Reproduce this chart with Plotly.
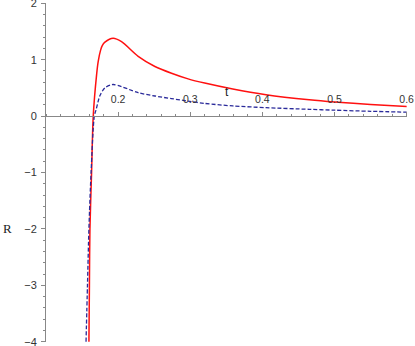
import plotly.graph_objects as go

# red curve (solid)
t_red = [0.1595, 0.1602, 0.1609, 0.1632, 0.1655, 0.1702, 0.1724, 0.1757, 0.178, 0.1817,
         0.193, 0.2047, 0.2278, 0.251, 0.274, 0.297, 0.32, 0.359, 0.405, 0.465, 0.50, 0.55, 0.60]
r_red = [-4.0, -3.0, -2.0, -1.0, 0.0, 0.74, 0.97, 1.17, 1.25, 1.31,
         1.38, 1.32, 1.06, 0.88, 0.76, 0.66, 0.585, 0.48, 0.38, 0.29, 0.25, 0.205, 0.17]

# blue curve (dashed)
t_blue = [0.1555, 0.1575, 0.1595, 0.1625, 0.167, 0.1696, 0.1747, 0.1817, 0.193,
          0.2278, 0.251, 0.274, 0.297, 0.32, 0.359, 0.405, 0.465, 0.50, 0.55, 0.60]
r_blue = [-4.0, -3.0, -2.0, -1.0, 0.0, 0.12, 0.36, 0.50, 0.56,
          0.415, 0.356, 0.31, 0.265, 0.225, 0.18, 0.15, 0.12, 0.105, 0.085, 0.07]

x_ticks = [0.2, 0.3, 0.4, 0.5, 0.6]
y_ticks = [-4, -3, -2, -1, 0, 1, 2]

fig = go.Figure()
fig.add_trace(go.Scatter(x=t_red, y=r_red, mode="lines",
                         line=dict(color="#ff1010", width=1.5, shape="spline", smoothing=0.8)))
fig.add_trace(go.Scatter(x=t_blue, y=r_blue, mode="lines",
                         line=dict(color="#2a2a9a", width=1.3, dash="4px,2px", shape="spline", smoothing=0.8)))

fig.add_annotation(x=0.351, y=0.42, text="t", showarrow=False,
                   font=dict(family="Liberation Sans", size=12, color="#222"))
fig.add_annotation(x=0, xref="paper", xanchor="left", xshift=-45, y=-2, text="R", showarrow=False,
                   font=dict(family="Liberation Serif", size=13, color="#222"))

fig.update_layout(
    width=415, height=346,
    margin=dict(l=46, r=8, t=3, b=4),
    paper_bgcolor="white", plot_bgcolor="white",
    showlegend=False,
    font=dict(family="Liberation Sans", size=11, color="#333"),
    xaxis=dict(range=[0.1, 0.6005], tickvals=x_ticks, ticktext=[str(v) for v in x_ticks],
               automargin=False, tickfont=dict(size=10.5), ticklabeloverflow="allow",
               showgrid=False, zeroline=False, showline=True, linecolor="#888", linewidth=1,
               side="top", anchor="free", position=4 / 6, ticklabelstandoff=5,
               ticks="outside", ticklen=4, tickcolor="#888",
               minor=dict(dtick=0.02, ticks="outside", ticklen=2, tickcolor="#888")),
    yaxis=dict(range=[-4.005, 2.005], tickvals=y_ticks, ticktext=["\u22124", "\u22123", "\u22122", "\u22121", "0", "1", "2"],
               automargin=False, ticklabelstandoff=2, ticklabeloverflow="allow",
               showgrid=False, zeroline=False, showline=True, linecolor="#888", linewidth=1,
               ticks="outside", ticklen=4, tickcolor="#888",
               minor=dict(dtick=0.2, ticks="outside", ticklen=2, tickcolor="#888")),
)

# page body has a default margin; drop it so the figure sits at the window corner
fig.write_html("out.html", config={"displayModeBar": False},
               post_script="document.body.style.margin='0';")
